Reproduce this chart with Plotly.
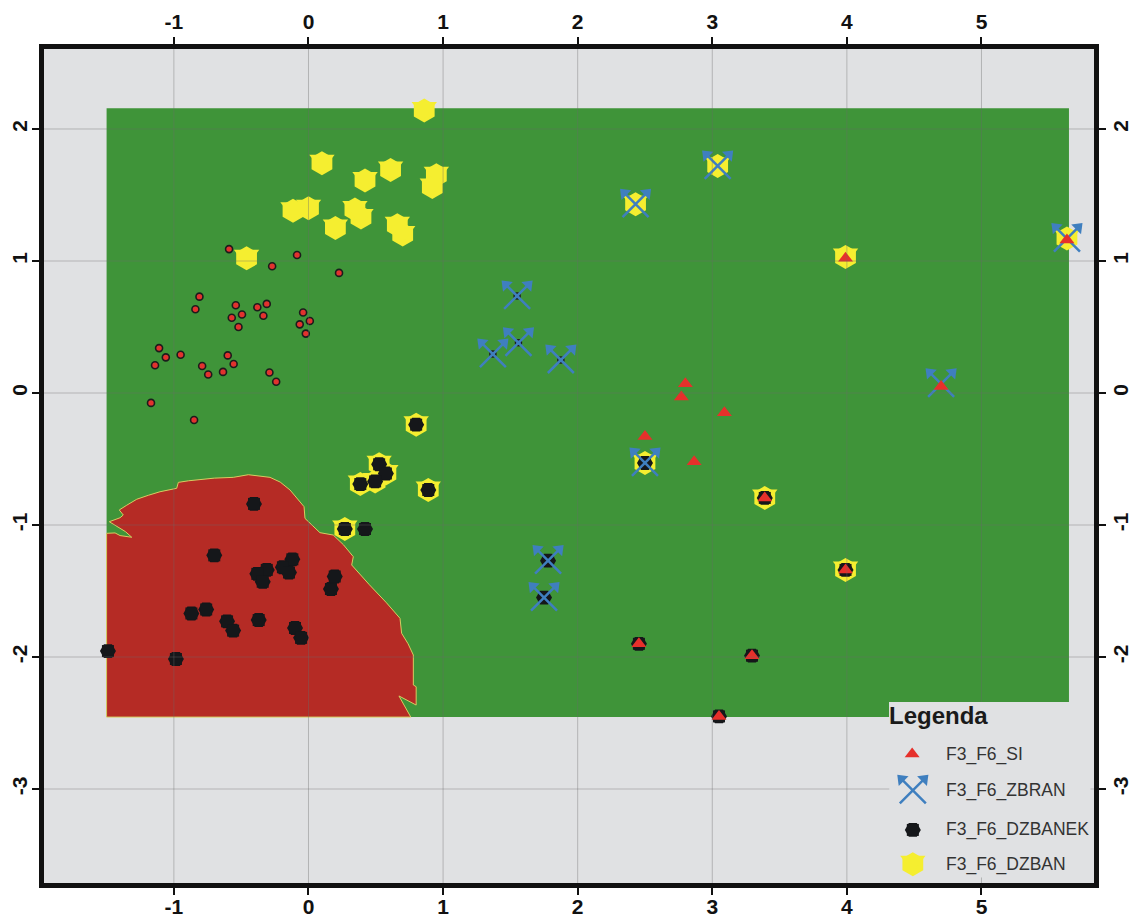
import plotly.graph_objects as go

x_ticks = [-1, 0, 1, 2, 3, 4, 5]
y_ticks = [-3, -2, -1, 0, 1, 2]
x_range = [-1.965, 5.836]
y_range = [-3.712, 2.606]

green_x = [-1.5, 5.65, 5.65, 4.313, 4.313, -1.5, -1.5]
green_y = [2.158, 2.158, -2.34, -2.34, -2.455, -2.455, 2.158]

red_x = [-1.50, -1.50, -1.437, -1.40, -1.313, -1.36, -1.48, -1.40, -1.376, -1.406, -1.35, -1.276, -1.19, -1.103, -0.979, -0.967,
         -0.89, -0.806, -0.70, -0.559, -0.447, -0.286, -0.21, -0.137, -0.033, -0.026, 0.085, 0.184, 0.26, 0.333, 0.321,
         0.45, 0.58, 0.68, 0.692, 0.74, 0.779, 0.779, 0.80, 0.80, 0.672, 0.76, -1.50]
red_y = [-2.455, -1.063, -1.06, -1.08, -1.093, -1.05, -0.975, -0.945, -0.924, -0.886, -0.85, -0.805, -0.775, -0.748, -0.722, -0.677,
         -0.665, -0.654, -0.645, -0.639, -0.619, -0.639, -0.675, -0.735, -0.861, -0.95, -1.058, -1.076, -1.15, -1.24, -1.303,
         -1.45, -1.59, -1.707, -1.82, -1.90, -1.985, -2.212, -2.225, -2.364, -2.295, -2.455, -2.455]

dzban_x = [0.86, 0.10, 0.61, 0.42, 0.95, 0.92, 0.0, -0.115, 0.345, 0.39, 0.20, 0.66, 0.70, -0.46,
           3.04, 2.43, 5.635, 3.99,
           0.80, 0.525, 0.575, 0.495, 0.385, 0.89, 0.27, 2.50, 3.39, 3.99]
dzban_y = [2.14, 1.74, 1.69, 1.61, 1.65, 1.56, 1.40, 1.38, 1.39, 1.33, 1.25, 1.27, 1.20, 1.02,
           1.72, 1.43, 1.17, 1.03,
           -0.24, -0.54, -0.61, -0.67, -0.69, -0.735, -1.03, -0.53, -0.795, -1.34]

dzbanek_x = [0.80, 0.525, 0.575, 0.495, 0.385, 0.89, 0.27, 2.50, 3.39, 3.99,
             0.42, -0.405, -0.70, -0.12, -0.19, -0.145, -0.31, -0.38, -0.34, 0.195, 0.167,
             -0.76, -0.87, -0.605, -0.56, -0.37, -0.10, -0.055, -1.49, -0.985,
             1.78, 1.75, 2.455, 3.295, 3.05]
dzbanek_y = [-0.24, -0.54, -0.61, -0.67, -0.69, -0.735, -1.03, -0.53, -0.795, -1.34,
             -1.03, -0.84, -1.23, -1.26, -1.32, -1.36, -1.34, -1.37, -1.43, -1.39, -1.485,
             -1.64, -1.67, -1.73, -1.80, -1.72, -1.78, -1.855, -1.955, -2.015,
             -1.27, -1.55, -1.90, -1.99, -2.45]

zbran_x = [1.55, 1.56, 1.37, 1.875, 3.04, 2.43, 5.635, 4.70, 2.50, 1.78, 1.75]
zbran_y = [0.735, 0.38, 0.295, 0.25, 1.72, 1.43, 1.17, 0.07, -0.53, -1.27, -1.55]
purple_x = [1.55, 1.56, 1.37, 1.875]
purple_y = [0.735, 0.38, 0.295, 0.25]

si_x = [2.80, 2.77, 2.50, 2.865, 3.09, 4.70, 3.39, 3.99, 3.99, 5.635, 2.455, 3.295, 3.05]
si_y = [0.07, -0.03, -0.33, -0.52, -0.15, 0.05, -0.795, -1.34, 1.02, 1.16, -1.90, -1.99, -2.45]

dots_x = [-0.59, -0.085, -0.27, 0.227, -0.81, -0.84, -0.54, -0.494, -0.57, -0.52, -0.38, -0.31, -0.335,
          -0.04, 0.01, -0.065, -0.02, -1.11, -1.06, -1.14, -0.95, -0.60, -0.556, -0.635, -0.79, -0.745,
          -0.29, -0.24, -1.17, -0.85]
dots_y = [1.09, 1.045, 0.96, 0.91, 0.73, 0.635, 0.665, 0.595, 0.57, 0.50, 0.65, 0.675, 0.585,
          0.61, 0.545, 0.52, 0.45, 0.34, 0.27, 0.21, 0.29, 0.285, 0.22, 0.16, 0.205, 0.14,
          0.155, 0.085, -0.075, -0.205]

legend_title = "Legenda"
legend_names = ["F3_F6_SI", "F3_F6_ZBRAN", "F3_F6_DZBANEK", "F3_F6_DZBAN"]
legend_key_x = [4.485, 4.49, 4.49, 4.49]
legend_key_y = [-2.735, -3.01, -3.31, -3.57]
legend_text_x = 4.72

PANEL = "#e0e1e3"
GREEN = "#3f9439"
RED = "#b52b25"
YELLOW = "#f5ee30"
BLACK = "#15171a"
BLUE = "#3f7fbf"
TRI = "#e6302b"
GRID = "rgba(105,105,105,0.38)"


def mk(xs, ys, name, **m):
    return go.Scatter(x=xs, y=ys, mode="markers", name=name, showlegend=False, hoverinfo="skip", marker=m)


def cross_traces(xs, ys):
    return [
        mk(xs, ys, "ZBRAN", symbol="x-thin", size=26, line=dict(color=BLUE, width=2.5)),
        mk(xs, ys, "ZBRAN", symbol="triangle-down", size=12, angle=225, standoff=16, color=BLUE, line=dict(width=0)),
        mk(xs, ys, "ZBRAN", symbol="triangle-down", size=12, angle=135, standoff=16, color=BLUE, line=dict(width=0)),
    ]


def shield_traces(xs, ys):
    return [
        mk(xs, ys, "DZBAN", symbol="hexagon", size=24, color=YELLOW, line=dict(width=0)),
        mk(xs, ys, "DZBAN", symbol="triangle-up", size=22, angle=180, standoff=3, color=YELLOW, line=dict(width=0)),
    ]


def jug_traces(xs, ys):
    return [
        mk(xs, ys, "DZBANEK", symbol="hexagon2", size=16, color=BLACK, line=dict(width=0)),
        mk(xs, ys, "DZBANEK", symbol="square", size=12, color=BLACK, line=dict(width=0)),
    ]


fig = go.Figure()
fig.add_trace(go.Scatter(x=green_x, y=green_y, mode="lines", fill="toself", fillcolor=GREEN,
                         line=dict(width=0), hoverinfo="skip", showlegend=False))
fig.add_trace(go.Scatter(x=red_x, y=red_y, mode="lines", fill="toself", fillcolor=RED,
                         line=dict(color="#d6cc62", width=1), hoverinfo="skip", showlegend=False))
fig.add_trace(mk(dots_x, dots_y, "dots", symbol="circle", size=7, color="#e2322e", line=dict(color="#1c1c1c", width=1.6)))
fig.add_traces(shield_traces(dzban_x, dzban_y))
fig.add_traces(jug_traces(dzbanek_x, dzbanek_y))
fig.add_trace(mk(purple_x, purple_y, "purple", symbol="circle", size=6, color="#5b52a3", line=dict(color="#1c1c1c", width=1.5)))
fig.add_traces(cross_traces(zbran_x, zbran_y))
fig.add_trace(mk(si_x, si_y, "F3_F6_SI", symbol="triangle-up", size=13, color=TRI, line=dict(width=0)))

# legend keys
fig.add_trace(mk(legend_key_x[:1], legend_key_y[:1], "key", symbol="triangle-up", size=13, color=TRI, line=dict(width=0)))
fig.add_traces(cross_traces(legend_key_x[1:2], legend_key_y[1:2]))
fig.add_traces(jug_traces(legend_key_x[2:3], legend_key_y[2:3]))
fig.add_traces(shield_traces(legend_key_x[3:4], legend_key_y[3:4]))

# second axes pair carrying the top and right labels
fig.add_trace(go.Scatter(x=[None], y=[None], xaxis="x2", yaxis="y2", showlegend=False, hoverinfo="skip"))

tick_font = dict(family="Liberation Sans", size=21, color="#111111", weight="bold")
common = dict(showgrid=False, zeroline=False, ticks="outside", ticklen=7, tickwidth=2, tickcolor="#111111",
              showline=True, linecolor="#111111", linewidth=5, tickfont=tick_font, automargin=False)

fig.update_layout(
    width=1132, height=918, margin=dict(l=44, r=38, t=49, b=35),
    paper_bgcolor="white", plot_bgcolor=PANEL, showlegend=False,
    xaxis=dict(range=x_range, tickvals=x_ticks, ticktext=[str(v) for v in x_ticks], mirror=True, ticklabelstandoff=-6, **common),
    yaxis=dict(range=y_range, tickvals=y_ticks, ticktext=[str(v) for v in y_ticks], tickangle=-90, mirror=True, ticklabelstandoff=-3, **common),
    xaxis2=dict(range=x_range, tickvals=x_ticks, ticktext=[str(v) for v in x_ticks], overlaying="x", side="top", anchor="y2", **common),
    yaxis2=dict(range=y_range, tickvals=y_ticks, ticktext=[str(v) for v in y_ticks], tickangle=-90, overlaying="y", side="right", anchor="x2", ticklabelstandoff=-3, **common),
)

# grid sits over the marks; it stops at the legend block
notch_left, notch_right = 4.315, 5.81
notch_top, notch_bottom = -2.34, -3.67
shapes = []
def seg(x0, y0, x1, y1):
    shapes.append(dict(type="line", xref="x", yref="y", x0=x0, y0=y0, x1=x1, y1=y1, layer="above",
                       line=dict(color=GRID, width=1)))
for v in x_ticks:
    if notch_left < v < notch_right:
        seg(v, y_range[1], v, notch_top)
        seg(v, notch_bottom, v, y_range[0])
    else:
        seg(v, y_range[0], v, y_range[1])
for v in y_ticks:
    if notch_bottom < v < notch_top:
        seg(x_range[0], v, notch_left, v)
        seg(notch_right, v, x_range[1], v)
    else:
        seg(x_range[0], v, x_range[1], v)
fig.update_layout(shapes=shapes)

ann = [dict(x=4.30, y=-2.44, xref="x", yref="y", text="<b>" + legend_title + "</b>", showarrow=False, xanchor="left",
            font=dict(family="Liberation Sans", size=24, color="#1a1a1a"))]
for nm, ky in zip(legend_names, legend_key_y):
    ann.append(dict(x=legend_text_x, y=ky, xref="x", yref="y", text=nm, showarrow=False, xanchor="left",
                    font=dict(family="Liberation Sans", size=17.5, color="#333333")))
fig.update_layout(annotations=ann)

fig.write_html("out.html", config=dict(displayModeBar=False), post_script="document.body.style.margin='0';")
